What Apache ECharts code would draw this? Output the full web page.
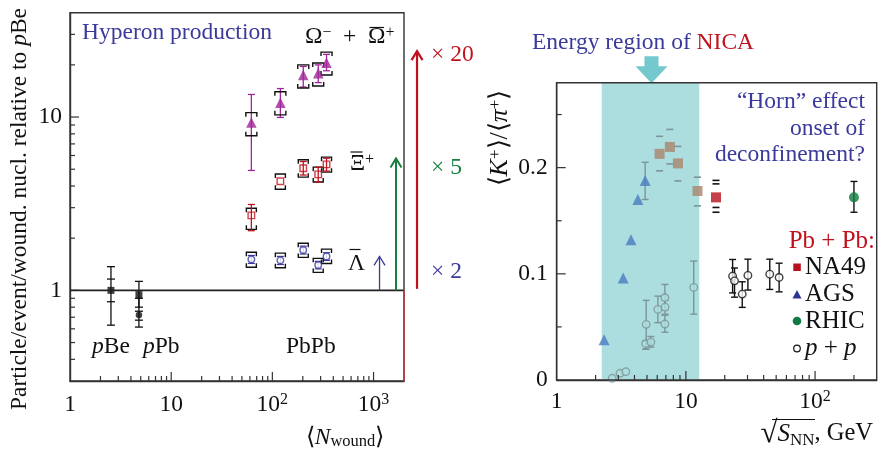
<!DOCTYPE html>
<html><head><meta charset="utf-8">
<script src="https://cdn.jsdelivr.net/npm/echarts@6/dist/echarts.min.js"></script>
<style>html,body{margin:0;padding:0;background:#fff}#c{width:879px;height:451px}</style>
</head><body><div id="c"></div>
<script>
// ================= DATA =================
// ---- Left panel: hyperon production (log-log) ----
const leftXTicks = [1, 10, 100, 1000];
const leftXTickLabels = ['1', '10', '10{sup|2}', '10{sup|3}'];
const leftYTicks = [1, 10];
const leftYTickLabels = ['1', '10'];

const hypX = [62, 120, 202, 284, 343];             // <N_wound> of PbPb centrality bins
const omegaY = [9.3, 12.1, 17.5, 17.9, 20.6];
const omegaStat = [[4.92, 13.5], [9.95, 14.6], [14.9, 19.6], [15.8, 20.0], [18.5, 23.0]];
const omegaSys = [[7.8, 10.6], [10.3, 14.0], [14.7, 20.0], [15.1, 20.5], [17.5, 23.7]];
const xiY = [2.71, 4.26, 5.07, 4.67, 5.33];
const xiStat = [[2.21, 3.13], null, [4.63, 5.54], [4.22, 5.14], [4.88, 5.79]];
const xiSys = [[2.25, 2.98], [3.83, 4.69], [4.5, 5.67], [4.22, 5.14], [4.81, 5.87]];
const lamY = [1.51, 1.49, 1.71, 1.40, 1.57];
const lamStat = [[1.43, 1.59], [1.41, 1.57], [1.62, 1.80], [1.33, 1.47], [1.49, 1.65]];
const lamSys = [[1.36, 1.66], [1.35, 1.64], [1.55, 1.87], [1.27, 1.53], [1.43, 1.73]];

const refSqX = [2.54, 4.8];                        // pBe, pPb (squares)
const refSqY = [1.0, 0.945];
const refSqErr = [[0.63, 1.37], [0.80, 1.127]];
const refSqSys = [[0.86, 1.162], null];
const refCircX = [4.8];                            // pPb (circle)
const refCircY = [0.72];
const refCircErr = [[0.614, 0.90]];
const refCircSys = [[0.673, 0.758]];

// enhancement arrows (x, from, to)
const arrowX = [1146, 1667, 2690];
const arrowFrom = [1.0, 1.0, 1.02];
const arrowTo = [1.57, 5.77, 24];

// ---- Right panel: K+/pi+ vs sqrt(s_NN) ----
const rightXTicks = [1, 10, 100];
const rightXTickLabels = ['1', '10', '10{sup|2}'];
const rightYTicks = [0, 0.1, 0.2];
const rightYTickLabels = ['0', '0.1', '0.2'];
const rightYMinor = [0.05, 0.15, 0.25];
const nicaBand = [2.23, 12.7];

const na49X = [6.26, 7.52, 8.68, 12.3, 17.1];
const na49Y = [0.213, 0.2195, 0.204, 0.178, 0.172];
const na49Err = [[0.197, 0.2295], [0.2035, 0.236], [0.1875, 0.22], [0.164, 0.191], [0.1625, 0.1847]];
const na49Err2 = [null, null, null, null, [0.158, 0.188]];

const agsX = [2.33, 3.27, 3.76, 4.25, 4.84];
const agsY = [0.038, 0.096, 0.132, 0.170, 0.188];
const agsErr = [null, null, null, null, [0.170, 0.205]];

const rhicX = [200];
const rhicY = [0.172];
const rhicErr = [[0.158, 0.187]];

const ppX = [2.69, 3.09, 3.43, 4.93, 4.88, 5.36, 6.07, 6.88, 6.9, 6.88, 11.5, 23.0, 23.8, 27.3, 30.2, 44.6, 52.7];
const ppY = [0.0016, 0.0063, 0.0078, 0.0524, 0.0342, 0.0357, 0.0665, 0.0775, 0.0686, 0.0527, 0.0872, 0.0978, 0.0934, 0.0809, 0.0985, 0.0997, 0.0966];
const ppErr = [null, null, null, [0.029, 0.075], [0.029, 0.037], [0.031, 0.041], [0.054, 0.079], [0.066, 0.090], [0.062, 0.075], [0.045, 0.061], [0.062, 0.112], [0.082, 0.1135], [0.078, 0.1055], [0.0684, 0.0925], [0.0847, 0.1138], [0.0853, 0.1138], [0.083, 0.110]];

// ================= STYLE =================
const FONT = 'Liberation Serif';
const FS = 23.5;
const C_BLUE = '#3a3a9c', C_RED = '#c0121e', C_GREEN = '#16803e', C_MAG = '#a0249a';
const C_AXIS = '#333';
const C_BAND = '#acdedf', C_BAND_ARROW = '#74c9cf';
const inBand = x => x >= nicaBand[0] && x <= nicaBand[1];

const LX = [1, 2000], LY = [0.3, 40];
const RX = [1, 300], RY = [0, 0.28];

function minorLog(lo, hi) {
  const out = [];
  for (let d = Math.pow(10, Math.floor(Math.log10(lo))); d < hi; d *= 10)
    for (let k = 2; k <= 9; k++) { const v = k * d; if (v > lo * 1.0001 && v < hi * 0.9999) out.push(+v.toPrecision(6)); }
  return out;
}

function fmt(ticks, labels) {
  return v => { const i = ticks.findIndex(t => Math.abs(t - v) <= 1e-6 * Math.max(1, Math.abs(t))); return i >= 0 ? labels[i] : ''; };
}

function tickSeries(g, xMajor, xMinor, yMajor, yMinor, xMin, yMin) {
  const xs = xMajor.filter(v => v > (g ? RX : LX)[0] && v < (g ? RX : LX)[1]).map(v => [v, yMin, 1])
    .concat(xMinor.map(v => [v, yMin, 0]));
  const ys = yMajor.filter(v => v > (g ? RY : LY)[0] && v < (g ? RY : LY)[1]).map(v => [xMin, v, 1])
    .concat(yMinor.map(v => [xMin, v, 0]));
  const mk = (data, horiz) => ({
    type: 'custom', xAxisIndex: g, yAxisIndex: g, silent: true, z: 5, data,
    renderItem(p, api) {
      const pt = api.coord([api.value(0), api.value(1)]);
      const len = api.value(2) ? 9 : 5;
      const shape = horiz ? { x1: pt[0], y1: pt[1], x2: pt[0] + len, y2: pt[1] } : { x1: pt[0], y1: pt[1], x2: pt[0], y2: pt[1] - len };
      return { type: 'line', shape, style: { stroke: C_AXIS, lineWidth: 1.2 } };
    }
  });
  return [mk(xs, false), mk(ys, true)];
}

// kinds: 'bar' (line + caps), 'dash' (caps only), 'bracket' ([ ] systematic)
function errSeries(g, xs, ranges, color, kind, half, lw, z) {
  const data = [];
  xs.forEach((x, i) => { if (ranges[i]) data.push([x, ranges[i][0], ranges[i][1]]); });
  return {
    type: 'custom', xAxisIndex: g, yAxisIndex: g, silent: true, clip: false, z: z || 3, data,
    renderItem(p, api) {
      const x = api.value(0);
      const a = api.coord([x, api.value(1)]), b = api.coord([x, api.value(2)]);
      const col = typeof color === 'function' ? color(x) : color;
      const st = { stroke: col, lineWidth: lw, fill: null };
      const ch = [];
      const cx = a[0];
      if (kind === 'bar') {
        ch.push({ type: 'line', shape: { x1: cx, y1: a[1], x2: cx, y2: b[1] }, style: st });
      }
      if (kind === 'bar' || kind === 'dash') {
        ch.push({ type: 'line', shape: { x1: cx - half, y1: a[1], x2: cx + half, y2: a[1] }, style: st });
        ch.push({ type: 'line', shape: { x1: cx - half, y1: b[1], x2: cx + half, y2: b[1] }, style: st });
      }
      if (kind === 'bracket') {
        const leg = 4;
        ch.push({ type: 'polyline', shape: { points: [[cx - half, b[1] + leg], [cx - half, b[1]], [cx + half, b[1]], [cx + half, b[1] + leg]] }, style: st });
        ch.push({ type: 'polyline', shape: { points: [[cx - half, a[1] - leg], [cx - half, a[1]], [cx + half, a[1]], [cx + half, a[1] - leg]] }, style: st });
      }
      return { type: 'group', children: ch };
    }
  };
}

function scatter(g, xs, ys, symbol, size, colorFn, fillFn, z) {
  return {
    type: 'scatter', xAxisIndex: g, yAxisIndex: g, silent: true, z: z || 4, clip: false,
    symbol, symbolSize: size,
    data: xs.map((x, i) => ({
      value: [x, ys[i]],
      itemStyle: fillFn ? { color: fillFn(x), borderColor: colorFn(x), borderWidth: 1.4 } : { color: colorFn(x), borderWidth: 0 }
    }))
  };
}

const axisCommon = {
  axisLine: { show: true, lineStyle: { color: C_AXIS, width: 1.4 } },
  axisTick: { show: false }, splitLine: { show: false }, minorTick: { show: false }
};
const labelRich = {
  sup: { fontSize: 16, fontFamily: FONT, color: '#111', verticalAlign: 'top', lineHeight: 16 }
};

// ---------- series ----------
const series = [];
// left panel
series.push(...tickSeries(0, leftXTicks, minorLog(1, 2000), leftYTicks, minorLog(0.3, 40), LX[0], LY[0]));
series.push({ // reference line at 1 and red edge below it
  type: 'custom', xAxisIndex: 0, yAxisIndex: 0, silent: true, z: 6, data: [[LX[0], 1, LX[1]]],
  renderItem(p, api) {
    const a = api.coord([api.value(0), 1]), b = api.coord([api.value(2), 1]);
    const c = api.coord([api.value(2), LY[0]]);
    return { type: 'group', children: [
      { type: 'line', shape: { x1: a[0], y1: a[1], x2: b[0], y2: b[1] }, style: { stroke: '#222', lineWidth: 1.8 } },
      { type: 'line', shape: { x1: b[0], y1: b[1], x2: c[0], y2: c[1] }, style: { stroke: '#c23a46', lineWidth: 1.6 } }
    ] };
  }
});
const arrowCols = [C_BLUE, C_GREEN, C_RED];
const arrowLw = [1.3, 2, 2.2];
series.push({
  type: 'custom', xAxisIndex: 0, yAxisIndex: 0, silent: true, clip: false, z: 6,
  data: arrowX.map((x, i) => [x, arrowFrom[i], arrowTo[i], i]),
  renderItem(p, api) {
    const i = api.value(3);
    const a = api.coord([api.value(0), api.value(1)]), b = api.coord([api.value(0), api.value(2)]);
    const st = { stroke: arrowCols[i], lineWidth: arrowLw[i], fill: null };
    return { type: 'group', children: [
      { type: 'line', shape: { x1: a[0], y1: a[1], x2: b[0], y2: b[1] }, style: st },
      { type: 'polyline', shape: { points: [[b[0] - 5.5, b[1] + 9], [b[0], b[1]], [b[0] + 5.5, b[1] + 9]] }, style: st }
    ] };
  }
});
series.push(errSeries(0, hypX, omegaStat, C_MAG, 'bar', 3.5, 1.3, 3));
series.push(errSeries(0, hypX, omegaSys, '#111', 'bracket', 5.5, 1.4, 3));
series.push(scatter(0, hypX, omegaY, 'triangle', 10.5, () => C_MAG, null, 4));
series.push(errSeries(0, hypX, xiStat, C_RED, 'bar', 3.5, 1.3, 5));
series.push(errSeries(0, hypX, xiSys, '#111', 'bracket', 5, 1.4, 3));
series.push(scatter(0, hypX, xiY, 'rect', 6.5, () => C_RED, () => 'rgba(255,255,255,0)', 4));
series.push(errSeries(0, hypX, lamStat, C_BLUE, 'bar', 3.5, 1.2, 3));
series.push(errSeries(0, hypX, lamSys, '#111', 'bracket', 5, 1.4, 3));
series.push(scatter(0, hypX, lamY, 'circle', 6.5, () => C_BLUE, () => '#fff', 4));
series.push(errSeries(0, refSqX, refSqErr, '#111', 'bar', 4, 1.3, 3));
series.push(errSeries(0, refSqX, refSqSys, '#111', 'dash', 4, 1.3, 3));
series.push(scatter(0, refSqX, refSqY, 'rect', 7, () => '#111', null, 4));
series.push(errSeries(0, refCircX, refCircErr, '#111', 'bar', 4, 1.3, 3));
series.push(errSeries(0, refCircX, refCircSys, '#111', 'dash', 4, 1.3, 3));
series.push(scatter(0, refCircX, refCircY, 'circle', 6.5, () => '#111', null, 4));

// right panel
series.push({ // NICA energy band + arrow
  type: 'custom', xAxisIndex: 1, yAxisIndex: 1, silent: true, clip: false, z: 1,
  data: [[nicaBand[0], nicaBand[1]]],
  renderItem(p, api) {
    const a = api.coord([api.value(0), RY[1]]), b = api.coord([api.value(1), RY[0]]);
    const cx = api.coord([Math.sqrt(api.value(0) * api.value(1)), RY[1]])[0] + 1;
    const top = a[1];
    return { type: 'group', children: [
      { type: 'rect', shape: { x: a[0], y: a[1], width: b[0] - a[0], height: b[1] - a[1] }, style: { fill: C_BAND } },
      { type: 'polygon', shape: { points: [[cx - 7, top - 26.5], [cx + 7, top - 26.5], [cx + 7, top - 16.5], [cx + 16, top - 16.5], [cx, top + 0.5], [cx - 16, top - 16.5], [cx - 7, top - 16.5]] }, style: { fill: C_BAND_ARROW } }
    ] };
  }
});
series.push(...tickSeries(1, rightXTicks, minorLog(1, 300), rightYTicks, rightYMinor, RX[0], RY[0]));
const grayIn = c => x => inBand(x) ? '#7d9596' : c;
series.push(errSeries(1, na49X, na49Err, grayIn('#111'), 'dash', 3.5, 1.6, 3));
series.push(errSeries(1, na49X, na49Err2, grayIn('#111'), 'dash', 3.5, 1.6, 3));
series.push(scatter(1, na49X, na49Y, 'rect', 10, x => inBand(x) ? '#a9836b' : '#b8101c', null, 4));
series.push(errSeries(1, agsX, agsErr, grayIn('#111'), 'bar', 3.5, 1.4, 3));
series.push(scatter(1, agsX, agsY, 'triangle', 11, x => inBand(x) ? '#4a7cc0' : '#2a3593', null, 4));
series.push(errSeries(1, rhicX, rhicErr, '#111', 'bar', 3.5, 1.4, 3));
series.push(scatter(1, rhicX, rhicY, 'circle', 10, () => '#0e7a40', null, 4));
series.push(errSeries(1, ppX, ppErr, grayIn('#111'), 'bar', 3.5, 1.4, 3));
series.push(scatter(1, ppX, ppY, 'circle', 7.5, grayIn('#111'), x => inBand(x) ? C_BAND : '#fff', 4));

// ---------- text ----------
const T = (x, y, text, o = {}) => ({
  type: 'text', x, y, rotation: o.rot || 0, z: 50, silent: true,
  style: Object.assign({
    text, fill: o.fill || '#111', font: `${o.italic ? 'italic ' : ''}${o.size || FS}px "${FONT}"`,
    align: o.align || 'left', verticalAlign: 'middle', textAlign: o.align || 'left', textVerticalAlign: 'middle'
  }, o.rich ? { rich: o.rich } : {})
});
const R = (extra = {}) => Object.assign({
  i: { fontStyle: 'italic', fontFamily: FONT, fontSize: FS, fill: '#111' },
  n: { fontFamily: FONT, fontSize: FS, fill: '#111' },
  big: { fontFamily: FONT, fontSize: 31, fill: '#111' },
  sup: { fontFamily: FONT, fontSize: 16, fill: '#111', verticalAlign: 'top', lineHeight: 16 },
  sub: { fontFamily: FONT, fontSize: 16.5, fill: '#111', verticalAlign: 'bottom', lineHeight: 14 }
}, extra);
const L = (x1, y1, x2, y2, w) => ({ type: 'line', z: 50, silent: true, shape: { x1, y1, x2, y2 }, style: { stroke: '#111', lineWidth: w || 1.2 } });

const graphic = [
  T(82, 33, 'Hyperon production', { fill: C_BLUE }),
  T(305, 37, '{n|Ω}{sup|−}', { rich: R() }),
  T(343, 37, '+'),
  T(368, 37, '{n|Ω}{sup|+}', { rich: R() }),
  L(369.5, 27.5, 384, 27.5),
  T(350, 164, '{n|Ξ}{sup|+}', { rich: R() }),
  L(350.5, 152, 362.5, 152),
  T(348, 264, 'Λ'),
  L(349.5, 249.5, 360.5, 249.5),
  T(431, 55, '× 20', { fill: C_RED }),
  T(431, 168, '× 5', { fill: C_GREEN }),
  T(431, 272, '× 2', { fill: C_BLUE }),
  T(92, 347, '{i|p}{n|Be}', { rich: R() }),
  T(143, 347, '{i|p}{n|Pb}', { rich: R() }),
  T(286, 347, 'PbPb'),
  T(20, 209, '{n|Particle/event/wound. nucl. relative to }{i|p}{n|Be}', { rich: R(), align: 'center', rot: Math.PI / 2 }),
  T(345, 438, '{n|⟨}{i|N}{sub|wound}{n|⟩}', { rich: R(), align: 'center' }),
  // right
  T(643, 43, '{b|Energy region of }{r|NICA}', { align: 'center', rich: { b: { fontFamily: FONT, fontSize: FS, fill: C_BLUE }, r: { fontFamily: FONT, fontSize: FS, fill: C_RED } } }),
  T(865, 102, '“Horn” effect', { fill: C_BLUE, align: 'right' }),
  T(865, 128.5, 'onset of', { fill: C_BLUE, align: 'right' }),
  T(865, 155, 'deconfinement?', { fill: C_BLUE, align: 'right' }),
  T(875, 241.5, 'Pb + Pb:', { fill: C_RED, align: 'right', size: 25 }),
  T(805, 267.5, 'NA49', { size: 25 }),
  T(805, 294.5, 'AGS', { size: 25 }),
  T(805, 321, 'RHIC', { size: 25 }),
  T(805, 348.5, '{i|p}{n| + }{i|p}', { rich: R({ i: { fontStyle: 'italic', fontFamily: FONT, fontSize: 25, fill: '#111' }, n: { fontFamily: FONT, fontSize: 25, fill: '#111' } }) }),
  { type: 'rect', z: 50, shape: { x: 793.3, y: 263.5, width: 7.5, height: 7.5 }, style: { fill: '#b8101c' } },
  { type: 'polygon', z: 50, shape: { points: [[797, 290], [801.5, 298.5], [792.5, 298.5]] }, style: { fill: '#2a3593' } },
  { type: 'circle', z: 50, shape: { cx: 797, cy: 321, r: 4.3 }, style: { fill: '#0e7a40' } },
  { type: 'circle', z: 50, shape: { cx: 797, cy: 348.5, r: 3.3 }, style: { fill: '#fff', stroke: '#111', lineWidth: 1.2 } },
  T(500, 138, '{n|⟨}{i|K}{sup|+}{n|⟩/⟨}{i|π}{sup|+}{n|⟩}', { rich: R({ n: { fontFamily: FONT, fontSize: 26, fill: '#111' }, i: { fontStyle: 'italic', fontFamily: FONT, fontSize: 26, fill: '#111' }, sup: { fontFamily: FONT, fontSize: 17, fill: '#111', verticalAlign: 'top', lineHeight: 17 } }), align: 'center', rot: Math.PI / 2 }),
  T(873, 434, '{big|√}{i|S}{sub|NN}{n|, GeV}', { rich: R({ i: { fontStyle: 'italic', fontFamily: FONT, fontSize: 25, fill: '#111' }, n: { fontFamily: FONT, fontSize: 24.5, fill: '#111' }, sub: { fontFamily: FONT, fontSize: 17, fill: '#111', verticalAlign: 'bottom', lineHeight: 14 } }), align: 'right' }),
  L(772, 419.5, 815, 419.5, 1.1)
];

const option = {
  animation: false,
  backgroundColor: '#fff',
  grid: [
    { left: 70, top: 12.7, width: 334, height: 368.3, show: true, borderColor: C_AXIS, borderWidth: 1.4, backgroundColor: 'transparent' },
    { left: 556.7, top: 82.7, width: 320, height: 297.3, show: true, borderColor: C_AXIS, borderWidth: 1.4, backgroundColor: 'transparent', z: 10 }
  ],
  xAxis: [
    Object.assign({ type: 'log', gridIndex: 0, min: LX[0], max: LX[1], logBase: 10,
      axisLabel: { formatter: fmt(leftXTicks, leftXTickLabels), fontFamily: FONT, fontSize: FS, color: '#111', margin: 11, lineHeight: 26, rich: labelRich, showMinLabel: true, showMaxLabel: false } }, axisCommon),
    Object.assign({ type: 'log', gridIndex: 1, min: RX[0], max: RX[1], logBase: 10,
      axisLabel: { formatter: fmt(rightXTicks, rightXTickLabels), fontFamily: FONT, fontSize: FS, color: '#111', margin: 9, lineHeight: 26, rich: labelRich, showMinLabel: true, showMaxLabel: false } }, axisCommon)
  ],
  yAxis: [
    Object.assign({ type: 'log', gridIndex: 0, min: LY[0], max: LY[1], logBase: 10,
      axisLabel: { formatter: fmt(leftYTicks, leftYTickLabels), fontFamily: FONT, fontSize: FS, color: '#111', margin: 8 } }, axisCommon),
    Object.assign({ type: 'value', gridIndex: 1, min: RY[0], max: RY[1], interval: 0.05,
      axisLabel: { formatter: fmt(rightYTicks, rightYTickLabels), fontFamily: FONT, fontSize: FS, color: '#111', margin: 9 } }, axisCommon)
  ],
  series,
  graphic
};
const chart = echarts.init(document.getElementById('c'));
chart.setOption(option);
</script></body></html>
